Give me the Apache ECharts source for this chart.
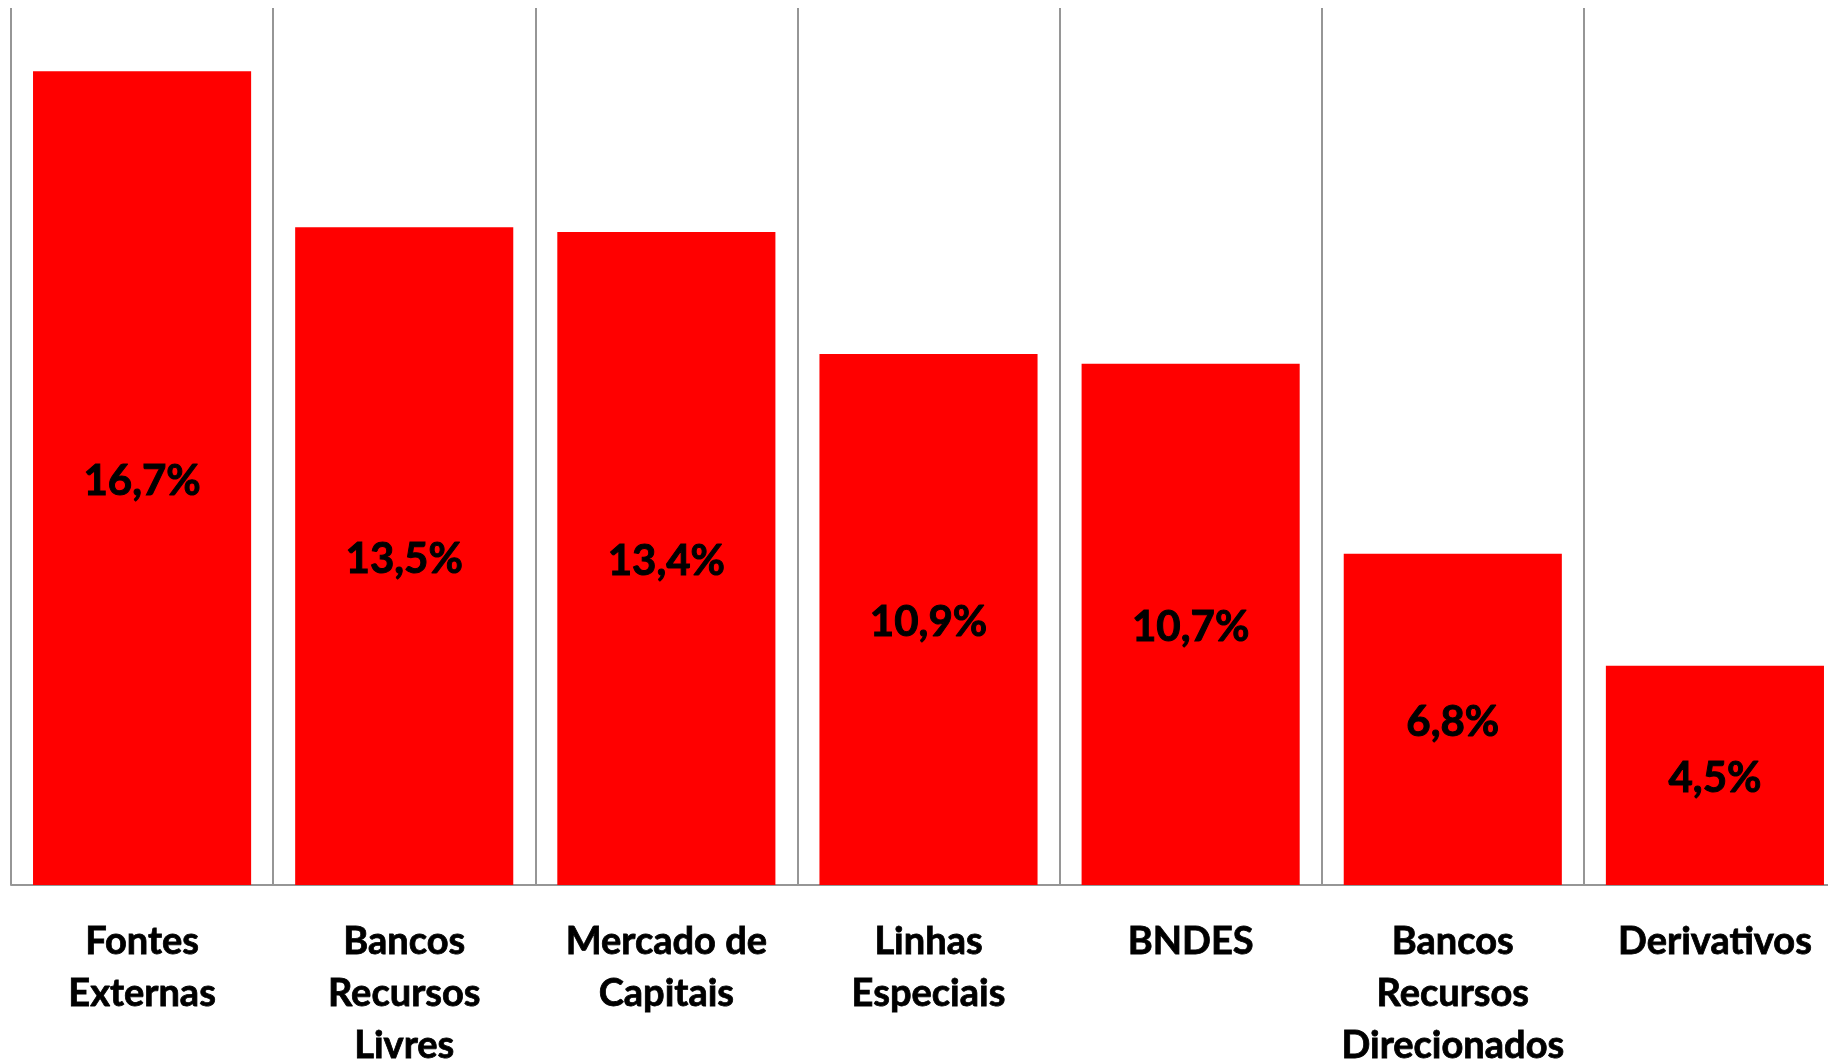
<!DOCTYPE html>
<html>
<head>
<meta charset="utf-8">
<script src="https://cdn.jsdelivr.net/npm/echarts@6/dist/echarts.min.js"></script>
<style>
  html, body { margin: 0; padding: 0; background: #fff; }
  #chart { width: 1828px; height: 1063px; }
</style>
</head>
<body>
<div id="chart"></div>
<script>
const categories = [
  'Fontes\nExternas',
  'Bancos\nRecursos\nLivres',
  'Mercado de\nCapitais',
  'Linhas\nEspeciais',
  'BNDES',
  'Bancos\nRecursos\nDirecionados',
  'Derivativos'
]
const values = [16.7, 13.5, 13.4, 10.9, 10.7, 6.8, 4.5]

const gray = '#969696'
const myChart = echarts.init(document.getElementById('chart'))

const option = {
  animation: false,
  grid: {
    left: 11,
    right: -18,
    top: 8,
    bottom: 178,
    outerBoundsMode: 'none',
    containLabel: false
  },
  xAxis: {
    type: 'category',
    data: categories,
    axisLine: { lineStyle: { color: gray, width: 2 } },
    axisTick: { length: 14, lineStyle: { color: gray, width: 2 } },
    splitLine: { show: true, lineStyle: { color: gray, width: 2 } },
    axisLabel: {
      interval: 0,
      margin: 31,
      color: '#000',
      fontFamily: 'Lato',
      fontWeight: 'bold',
      fontSize: 38,
      lineHeight: 52,
      align: 'center',
      textBorderColor: '#000',
      textBorderWidth: 0.8
    }
  },
  yAxis: {
    type: 'value',
    min: 0,
    max: 18,
    axisLine: { show: false },
    axisTick: { show: false },
    axisLabel: { show: false },
    splitLine: { show: false }
  },
  series: [
    {
      type: 'bar',
      data: values,
      barCategoryGap: '16.8%',
      itemStyle: { color: '#ff0000' },
      label: {
        show: true,
        position: 'inside',
        offset: [0, 3],
        color: '#000',
        fontFamily: 'Lato',
        fontWeight: 'bold',
        fontSize: 42,
        textBorderColor: '#000',
        textBorderWidth: 1,
        formatter: (p) => p.value.toFixed(1).replace('.', ',') + '%'
      }
    }
  ]
}

myChart.setOption(option)
</script>
</body>
</html>
